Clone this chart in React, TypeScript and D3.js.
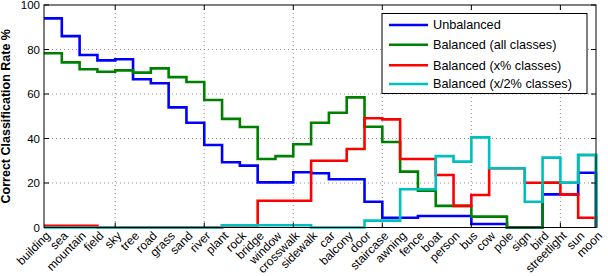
import React from 'react';
import * as d3 from 'd3';

// class names along the x axis, one stair step each
const categories = [
  'building', 'sea', 'mountain', 'field', 'sky', 'tree', 'road', 'grass', 'sand', 'river',
  'plant', 'rock', 'bridge', 'window', 'crosswalk', 'sidewalk', 'car', 'balcony', 'door',
  'staircase', 'awning', 'fence', 'boat', 'person', 'bus', 'cow', 'pole', 'sign', 'bird',
  'streetlight', 'sun', 'moon',
];

const unbalanced = [94.0, 86.0, 77.5, 75.1, 75.6, 66.6, 64.8, 54.0, 47.1, 37.1, 29.3, 27.8, 20.3, 20.3, 24.8, 24.4,
  21.7, 21.7, 11.6, 4.4, 4.4, 5.2, 5.2, 5.2, 1.6, 1.6, 0, 0, 14.9, 14.9, 24.6, 0];
const balancedAll = [78.3, 74.2, 71.1, 70.0, 70.6, 69.6, 71.5, 67.6, 65.4, 57.3, 48.8, 45.2, 30.8, 32.1, 37.4, 47.1,
  51.6, 58.5, 45.3, 38.4, 25.1, 16.5, 9.7, 9.7, 4.9, 4.9, 0, 0, 20.1, 20.1, 32.6, 0];
const balancedX = [0.8, 0.8, 0.8, 0, 0, 0, 0, 0, 0, 0, 1.0, 1.0, 12, 12, 12, 30.0,
  30.0, 35.3, 49.1, 48.6, 30.8, 30.8, 23.6, 9.7, 14.6, 26.6, 26.6, 20.1, 20.1, 14.9, 4.4, 0];
const balancedHalfX = [0, 0, 0, 0, 0, 0, 0, 0, 0, 0, 1.0, 1.0, 1.0, 1.0, 1.0, 0,
  0, 0, 3.1, 3.1, 17.2, 17.2, 32.1, 29.6, 40.5, 26.6, 26.6, 11.6, 31.4, 20.1, 32.6, 0];

const seriesNames = ['Unbalanced', 'Balanced (all classes)', 'Balanced (x% classes)', 'Balanced (x/2% classes)'];
const seriesColors = ['#0000ff', '#008000', '#ff0000', '#00bfbf'];
const yTicks = [0, 20, 40, 60, 80, 100];
const xGridTicks = [5, 10, 15, 20, 25, 30];

export default function App() {
  const width = 608;
  const height = 276;
  const left = 44, right = 596, top = 5, bottom = 227.5;

  const x = d3.scaleLinear().domain([1, categories.length]).range([left, right]);
  const y = d3.scaleLinear().domain([0, 100]).range([bottom, top]);

  const line = d3.line<number>()
    .x((d, i) => x(i + 1))
    .y(d => y(d))
    .curve(d3.curveStepAfter);

  const allSeries = [unbalanced, balancedAll, balancedX, balancedHalfX];
  const font = '"Liberation Sans", Arial, sans-serif';

  return (
    <svg width={width} height={height} style={{ position: 'absolute', left: 0, top: 0 }} fontFamily={font}>
      <rect x={0} y={0} width={width} height={height} fill="#fff" />

      {/* grid */}
      {yTicks.filter(t => t > 0 && t < 100).map(t => (
        <line key={'gy' + t} x1={left} x2={right} y1={y(t)} y2={y(t)} stroke="#777" strokeWidth={0.8} strokeDasharray="1,3" />
      ))}
      {xGridTicks.map(t => (
        <line key={'gx' + t} x1={x(t)} x2={x(t)} y1={top} y2={bottom} stroke="#777" strokeWidth={0.8} strokeDasharray="1,3" />
      ))}

      {/* series */}
      {allSeries.map((s, i) => (
        <path key={'s' + i} d={line(s) || ''} fill="none" stroke={seriesColors[i]} strokeWidth={2.6} />
      ))}

      {/* frame and ticks */}
      <rect x={left} y={top} width={right - left} height={bottom - top} fill="none" stroke="#000" strokeWidth={1} />
      {yTicks.map(t => (
        <g key={'yt' + t}>
          <line x1={left} x2={left + 5} y1={y(t)} y2={y(t)} stroke="#000" />
          <line x1={right - 5} x2={right} y1={y(t)} y2={y(t)} stroke="#000" />
          <text x={left - 4} y={y(t)} dy="0.35em" textAnchor="end" fontSize={11.5} fill="#000">{t}</text>
        </g>
      ))}
      {xGridTicks.map(t => (
        <g key={'xt' + t}>
          <line x1={x(t)} x2={x(t)} y1={bottom} y2={bottom - 5} stroke="#000" />
          <line x1={x(t)} x2={x(t)} y1={top} y2={top + 5} stroke="#000" />
        </g>
      ))}

      {/* category labels */}
      {categories.map((c, i) => (
        <text key={c} transform={`translate(${x(i + 1) + 7},${bottom + 9}) rotate(-45)`}
          textAnchor="end" fontSize={12} fill="#000">{c}</text>
      ))}

      <text transform={`translate(10,${(top + bottom) / 2}) rotate(-90)`} textAnchor="middle"
        fontSize={12.5} fontWeight="bold" fill="#000">Correct Classification Rate %</text>

      {/* legend */}
      <g>
        <rect x={382} y={13.5} width={205} height={80} fill="#fff" stroke="#000" strokeWidth={1} />
        {seriesNames.map((n, i) => {
          const ly = [25, 44.7, 65.3, 84][i];
          return (
            <g key={n}>
              <line x1={389} x2={428} y1={ly} y2={ly} stroke={seriesColors[i]} strokeWidth={2.6} />
              <text x={433} y={ly} dy="0.35em" fontSize={12.7} fill="#000">{n}</text>
            </g>
          );
        })}
      </g>
    </svg>
  );
}
